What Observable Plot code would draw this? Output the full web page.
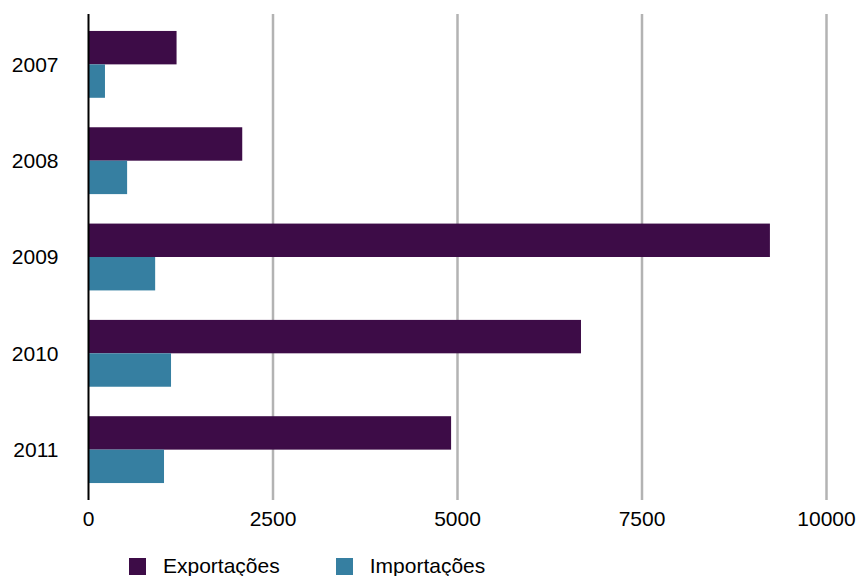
<!DOCTYPE html>
<html>
<head>
<meta charset="utf-8">
<script src="https://cdn.jsdelivr.net/npm/d3@7"></script>
<script src="https://cdn.jsdelivr.net/npm/@observablehq/plot@0.6"></script>
<style>
  body { margin: 0; background: #fff; font-family: "Liberation Sans", Helvetica, Arial, sans-serif; }
  #legend { display: flex; align-items: center; height: 24px; margin-top: 9px; margin-left: 129px; font-size: 21px; color: #000; }
  .item { display: flex; align-items: center; }
  .sw { width: 17px; height: 17px; margin-right: 17px; }
</style>
</head>
<body>
<div id="chart"></div>
<div id="legend"></div>
<script>
const years = ["2007", "2008", "2009", "2010", "2011"];
const exportacoes = [1200, 2090, 9240, 6680, 4920];
const importacoes = [230, 530, 910, 1125, 1030];
const seriesNames = ["Exportações", "Importações"];
const seriesColors = ["#3d0c47", "#367fa1"];
const xTicks = [0, 2500, 5000, 7500, 10000];

const W = 858, H = 545;
const mTop = 14, mBottom = 45, mLeft = 88, mRight = 32;
const yOpts = {type: "band", domain: years, paddingInner: 0.306, paddingOuter: 0.176, round: false};
const bw = Plot.scale({y: {...yOpts, range: [mTop, H - mBottom]}}).bandwidth;

const expData = years.map((y, i) => ({year: y, value: exportacoes[i]}));
const impData = years.map((y, i) => ({year: y, value: importacoes[i]}));

const chart = Plot.plot({
  width: W, height: H,
  marginTop: mTop, marginBottom: mBottom, marginLeft: mLeft, marginRight: mRight,
  style: {fontSize: "21px", fontFamily: "'Liberation Sans', Helvetica, Arial, sans-serif", color: "#000", background: "#fff"},
  x: {domain: [0, 10000]},
  y: yOpts,
  marks: [
    Plot.gridX(xTicks.filter(d => d > 0), {stroke: "#b3b3b3", strokeOpacity: 1, strokeWidth: 2.5}),
    Plot.barX(expData, {y: "year", x: "value", fill: seriesColors[0], insetBottom: bw / 2}),
    Plot.barX(impData, {y: "year", x: "value", fill: seriesColors[1], insetTop: bw / 2}),
    Plot.ruleX([0], {stroke: "#000", strokeWidth: 2}),
    Plot.axisX({ticks: xTicks, tickSize: 0, tickPadding: 11, label: null, tickFormat: d => String(d)}),
    Plot.axisY({tickSize: 0, tickPadding: 30, label: null})
  ]
});
document.getElementById("chart").appendChild(chart);

const legend = document.getElementById("legend");
seriesNames.forEach((name, i) => {
  const item = document.createElement("div");
  item.className = "item";
  if (i > 0) item.style.marginLeft = "56px";
  const sw = document.createElement("div");
  sw.className = "sw";
  sw.style.background = seriesColors[i];
  const t = document.createElement("span");
  t.textContent = name;
  item.appendChild(sw);
  item.appendChild(t);
  legend.appendChild(item);
});
</script>
</body>
</html>
